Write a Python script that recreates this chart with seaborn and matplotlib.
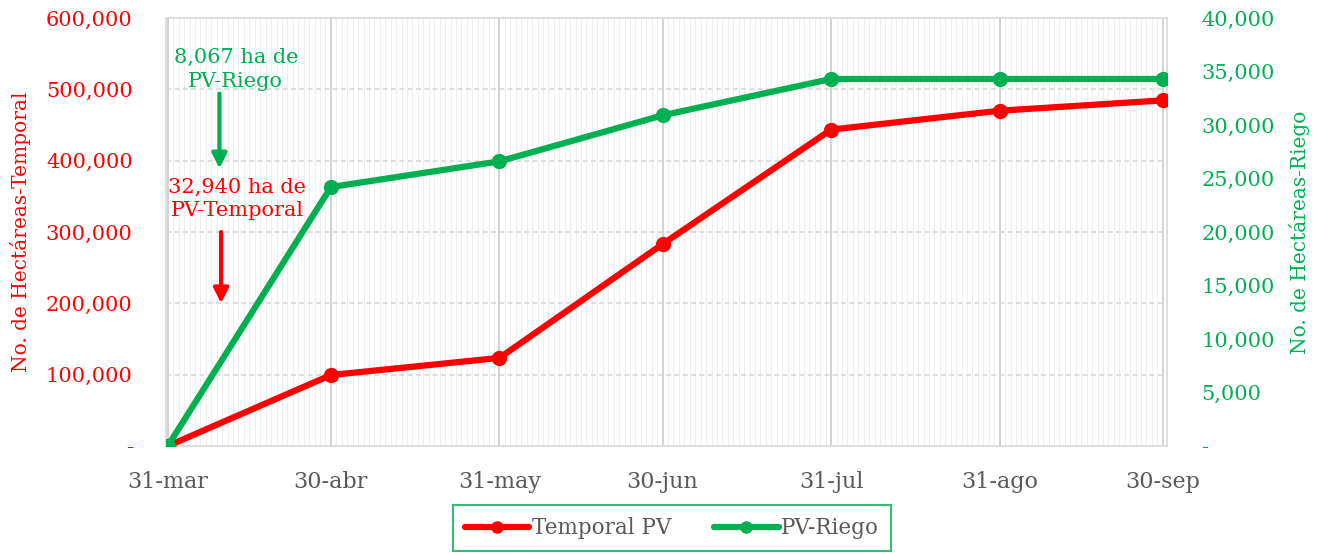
import matplotlib
matplotlib.use("Agg")
import matplotlib.pyplot as plt
import matplotlib.dates as mdates
from matplotlib.ticker import FuncFormatter, MultipleLocator
from matplotlib.lines import Line2D
import seaborn as sns
import pandas as pd

# data
fechas = ["2023-03-31", "2023-04-30", "2023-05-31", "2023-06-30",
          "2023-07-31", "2023-08-31", "2023-09-30"]
etiquetas = ["31-mar", "30-abr", "31-may", "30-jun", "31-jul", "31-ago", "30-sep"]
temporal = [0, 99500, 123500, 283000, 443500, 470000, 484500]
riego = [0, 24200, 26600, 30900, 34300, 34300, 34300]

rojo = "#FF0000"
verde = "#00B050"
gris = "#595959"

sns.set_style("white")
plt.rcParams["font.family"] = ["DejaVu Serif"]

df = pd.DataFrame({"fecha": pd.to_datetime(fechas), "temporal": temporal, "riego": riego})

fig = plt.figure(figsize=(13.29, 5.53), dpi=100)
ax = fig.add_axes([0.1249, 0.1935, 0.7531, 0.774])
ax2 = ax.twinx()

sns.lineplot(data=df, x="fecha", y="temporal", ax=ax, color=rojo, lw=4.5,
             marker="o", markersize=11, markeredgewidth=0, zorder=3)
sns.lineplot(data=df, x="fecha", y="riego", ax=ax2, color=verde, lw=4.5,
             marker="o", markersize=11, markeredgewidth=0, zorder=3)

x0 = df["fecha"].iloc[0] - pd.Timedelta(hours=8)
x1 = df["fecha"].iloc[-1] + pd.Timedelta(hours=18)
ax.set_xlim(x0, x1)
ax.set_ylim(0, 600000)
ax2.set_ylim(0, 40000)

# gridlines: daily minor, monthly major on x; dashed horizontals
ax.xaxis.set_minor_locator(mdates.DayLocator())
ax.set_xticks(df["fecha"])
ax.set_xticklabels(etiquetas)
ax.grid(which="minor", axis="x", color="#EEEEEE", lw=0.8)
ax.grid(which="major", axis="x", color="#D0D0D0", lw=1.3)
ax.yaxis.set_major_locator(MultipleLocator(100000))
ax.grid(which="major", axis="y", color="#D9D9D9", lw=1.2, ls=(0, (3, 2)))
ax.set_axisbelow(True)
ax2.yaxis.set_major_locator(MultipleLocator(5000))

fmt = FuncFormatter(lambda v, p: "-" if v == 0 else f"{v:,.0f}")
ax.yaxis.set_major_formatter(fmt)
ax2.yaxis.set_major_formatter(fmt)

for s in ax.spines.values():
    s.set_color("#D9D9D9")
    s.set_linewidth(1.2)
for s in ax2.spines.values():
    s.set_visible(False)

ax.tick_params(axis="x", which="major", length=8, width=1.2, color="#D0D0D0",
               labelsize=16, labelcolor=gris, pad=10)
ax.tick_params(axis="x", which="minor", length=0)
ax.tick_params(axis="y", length=0, labelsize=15, labelcolor=rojo, pad=24)
ax2.tick_params(axis="y", length=0, labelsize=15, labelcolor=verde, pad=25)

ax.set_xlabel("")
ax.set_ylabel("No. de Hectáreas-Temporal", color=rojo, fontsize=14.5, labelpad=11)
ax2.set_ylabel("No. de Hectáreas-Riego", color=verde, fontsize=14.5, labelpad=10)

# annotations with arrows
fx = df["fecha"].iloc[0] + pd.Timedelta(days=9.5)
ax.text(fx + pd.Timedelta(days=3), 528000, "8,067 ha de\nPV-Riego", color=verde,
        fontsize=15, ha="center", va="center", linespacing=1.3)
ax.annotate("", xy=(fx, 389000), xytext=(fx, 494000),
            arrowprops=dict(arrowstyle="-|>", color=verde, lw=3,
                            mutation_scale=22, shrinkA=0, shrinkB=0))
ax.text(fx + pd.Timedelta(days=3.3), 346000, "32,940 ha de\nPV-Temporal", color=rojo,
        fontsize=15, ha="center", va="center", linespacing=1.3)
ax.annotate("", xy=(fx + pd.Timedelta(days=0.3), 200000),
            xytext=(fx + pd.Timedelta(days=0.3), 300000),
            arrowprops=dict(arrowstyle="-|>", color=rojo, lw=3,
                            mutation_scale=22, shrinkA=0, shrinkB=0))

handles = [Line2D([], [], color=rojo, lw=4.5, marker="o", markersize=8),
           Line2D([], [], color=verde, lw=4.5, marker="o", markersize=8)]
leg = fig.legend(handles, ["Temporal PV", "PV-Riego"], loc="center",
                 bbox_to_anchor=(0.5055, 0.045), ncol=2, frameon=True,
                 fancybox=False, fontsize=15.5, handlelength=3.0,
                 handletextpad=0.1, columnspacing=2.0, borderpad=0.55)
leg.get_frame().set_edgecolor(verde)
leg.get_frame().set_linewidth(1.5)
for t in leg.get_texts():
    t.set_color(gris)

fig.savefig("out.png", dpi=100)
